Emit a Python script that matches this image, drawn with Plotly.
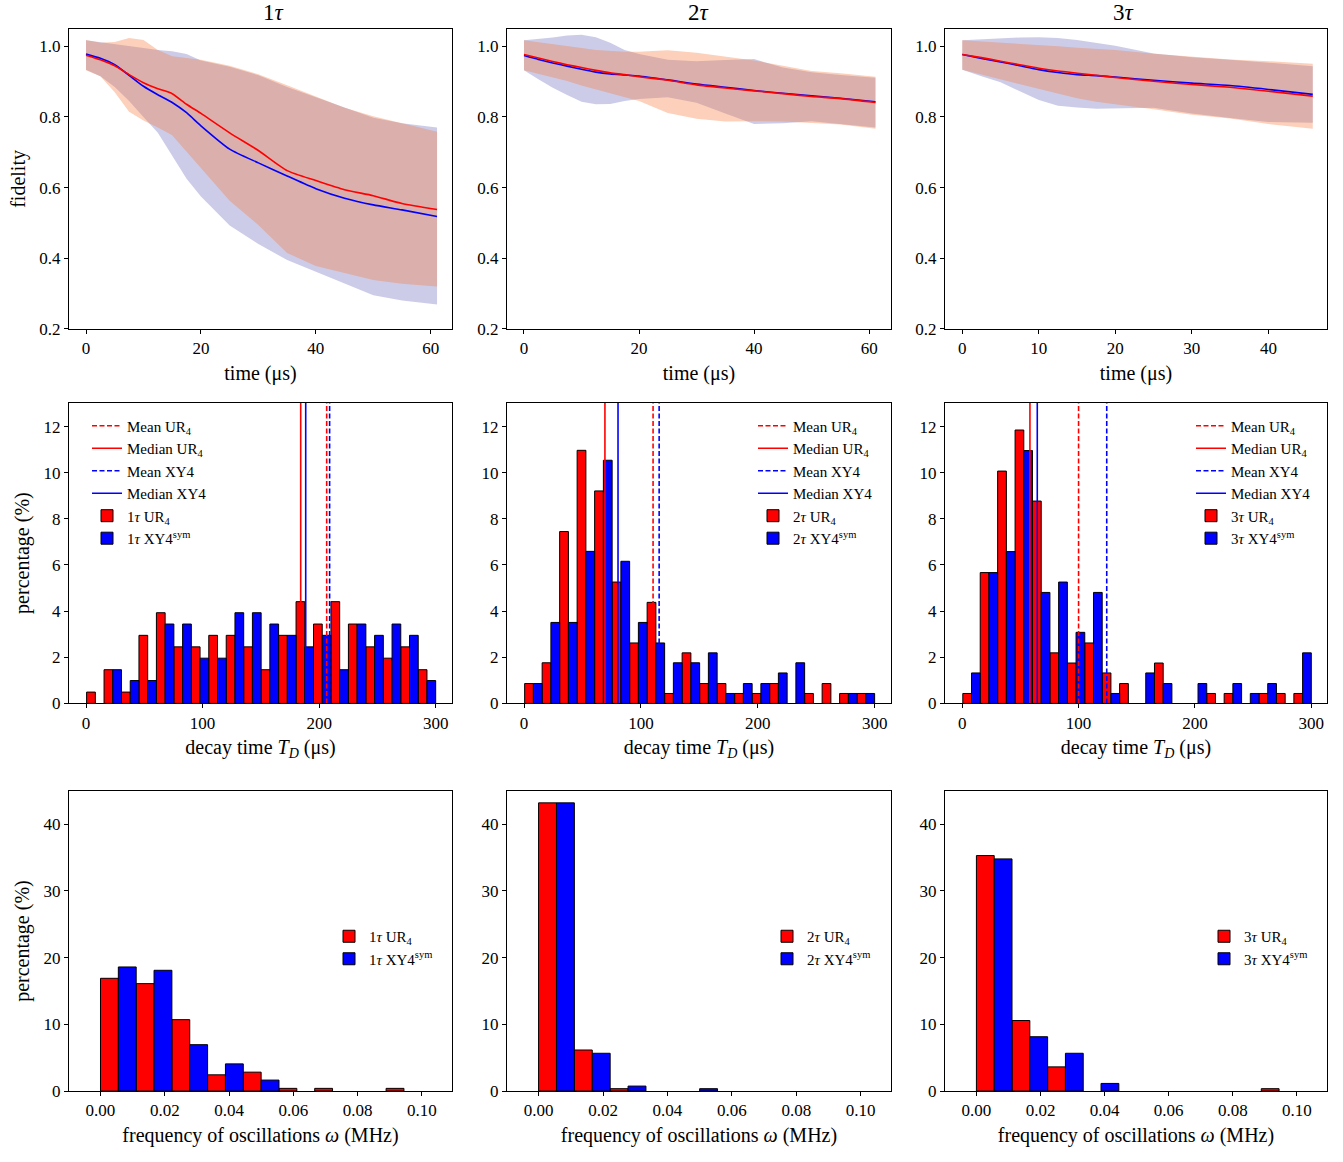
import numpy as np
import plotly.graph_objects as go

FONT = "Liberation Serif, DejaVu Serif, serif"
RED = "#ff0000"
BLUE = "#0000ff"
BAND_UR = "rgba(246,121,58,0.35)"
BAND_XY = "rgba(0,0,139,0.2)"

# ---------------- top row: fidelity vs time ----------------
t_12 = [0, 2.5, 5, 7.5, 10, 12.5, 15, 17.5, 20, 25, 30, 35, 40, 45, 50, 55, 61.1]
t_3 = [0, 2.5, 5, 7.5, 10, 12.5, 15, 17.5, 20, 25, 30, 35, 40, 45.8]

f1_ur = [0.975, 0.962, 0.945, 0.92, 0.897, 0.88, 0.866, 0.836, 0.81, 0.755, 0.705, 0.648, 0.62, 0.594, 0.577, 0.555, 0.538]
f1_ur_hi = [1.018, 1.010, 1.012, 1.024, 1.018, 0.99, 0.972, 0.966, 0.962, 0.945, 0.921, 0.89, 0.858, 0.826, 0.802, 0.783, 0.758]
f1_ur_lo = [0.932, 0.915, 0.87, 0.815, 0.79, 0.77, 0.748, 0.70, 0.655, 0.563, 0.494, 0.415, 0.378, 0.358, 0.338, 0.328, 0.32]
f1_xy = [0.978, 0.966, 0.948, 0.918, 0.887, 0.863, 0.841, 0.812, 0.775, 0.709, 0.67, 0.633, 0.597, 0.57, 0.551, 0.537, 0.518]
f1_xy_hi = [1.017, 1.011, 1.005, 1.0, 0.995, 0.99, 0.986, 0.978, 0.96, 0.942, 0.918, 0.885, 0.856, 0.826, 0.798, 0.782, 0.77]
f1_xy_lo = [0.934, 0.915, 0.885, 0.845, 0.80, 0.755, 0.69, 0.625, 0.575, 0.493, 0.44, 0.395, 0.36, 0.328, 0.295, 0.28, 0.269]

f2_ur = [0.977, 0.967, 0.957, 0.948, 0.94, 0.932, 0.925, 0.92, 0.914, 0.904, 0.891, 0.882, 0.874, 0.866, 0.858, 0.852, 0.841]
f2_ur_hi = [1.017, 1.011, 1.005, 1.0, 0.995, 0.99, 0.987, 0.985, 0.985, 0.989, 0.982, 0.97, 0.96, 0.945, 0.93, 0.924, 0.914]
f2_ur_lo = [0.932, 0.922, 0.912, 0.902, 0.889, 0.876, 0.866, 0.856, 0.845, 0.811, 0.795, 0.787, 0.788, 0.787, 0.783, 0.779, 0.767]
f2_xy = [0.974, 0.963, 0.953, 0.944, 0.935, 0.927, 0.922, 0.919, 0.916, 0.905, 0.893, 0.884, 0.875, 0.867, 0.86, 0.853, 0.843]
f2_xy_hi = [1.017, 1.02, 1.025, 1.031, 1.033, 1.026, 1.01, 0.99, 0.978, 0.962, 0.958, 0.961, 0.964, 0.94, 0.927, 0.919, 0.911]
f2_xy_lo = [0.932, 0.907, 0.883, 0.862, 0.843, 0.836, 0.837, 0.845, 0.851, 0.856, 0.84, 0.81, 0.78, 0.782, 0.788, 0.78, 0.77]

f3_ur = [0.977, 0.968, 0.958, 0.948, 0.938, 0.93, 0.924, 0.918, 0.912, 0.901, 0.892, 0.884, 0.873, 0.859]
f3_ur_hi = [1.017, 1.014, 1.011, 1.008, 1.004, 1.0, 0.996, 0.993, 0.99, 0.979, 0.97, 0.963, 0.958, 0.951]
f3_ur_lo = [0.934, 0.92, 0.907, 0.894, 0.88, 0.866, 0.853, 0.843, 0.836, 0.822, 0.806, 0.796, 0.78, 0.767]
f3_xy = [0.977, 0.966, 0.956, 0.945, 0.934, 0.926, 0.92, 0.917, 0.913, 0.904, 0.896, 0.889, 0.878, 0.864]
f3_xy_hi = [1.017, 1.02, 1.023, 1.025, 1.026, 1.024, 1.018, 1.01, 1.002, 0.98, 0.969, 0.962, 0.953, 0.944]
f3_xy_lo = [0.934, 0.915, 0.898, 0.872, 0.848, 0.832, 0.827, 0.823, 0.823, 0.826, 0.81, 0.797, 0.786, 0.784]

# ---------------- middle row: decay time histograms (%) ----------------
decay_edges = np.linspace(0.5, 300, 21)
d1_ur = [0.49, 1.46, 0.49, 2.95, 3.93, 2.45, 2.45, 2.95, 2.95, 2.45, 1.46, 2.95, 4.41, 3.44, 4.41, 3.44, 2.45, 1.96, 2.45, 1.46]
d1_xy = [0, 1.46, 0.99, 0.99, 3.44, 3.44, 1.96, 1.96, 3.93, 3.93, 3.44, 2.95, 2.45, 2.95, 1.46, 3.44, 2.95, 3.44, 2.95, 0.99]
d2_ur = [0.86, 1.76, 7.45, 10.97, 9.21, 5.26, 2.62, 4.38, 0.43, 2.19, 0.86, 0.86, 0.43, 0.43, 0.86, 0, 0.43, 0.86, 0.43, 0.43]
d2_xy = [0.86, 3.51, 3.51, 6.59, 10.54, 6.16, 3.51, 2.62, 1.76, 1.76, 2.19, 0.43, 0.86, 0.86, 1.32, 1.76, 0, 0, 0.43, 0.43]
d3_ur = [0.43, 5.67, 10.07, 11.85, 8.77, 2.19, 1.75, 2.62, 1.32, 0.86, 0, 1.75, 0, 0, 0.43, 0.43, 0, 0.43, 0.43, 0.43]
d3_xy = [1.32, 5.67, 6.58, 10.96, 4.81, 5.26, 3.08, 4.81, 0.43, 0, 1.32, 0.86, 0, 0.86, 0, 0.86, 0.43, 0.86, 0, 2.19]

# mean / median markers: [mean UR4, median UR4, mean XY4, median XY4]
stats1 = [206.5, 184.2, 209.0, 188.5]
stats2 = [110.4, 69.2, 115.6, 80.4]
stats3 = [100.0, 58.2, 124.2, 64.5]

# ---------------- bottom row: oscillation frequency histograms (%) ----------------
freq_edges = np.linspace(0.0, 0.1, 10)
w1_ur = [16.9, 16.1, 10.7, 2.43, 2.83, 0.4, 0.4, 0, 0.4]
w1_xy = [18.6, 18.1, 6.95, 4.07, 1.64, 0, 0, 0, 0]
w2_ur = [43.2, 6.15, 0.35, 0, 0, 0, 0, 0, 0]
w2_xy = [43.2, 5.66, 0.74, 0, 0.35, 0, 0, 0, 0]
w3_ur = [35.3, 10.57, 3.62, 0, 0, 0, 0, 0, 0.35]
w3_xy = [34.8, 8.14, 5.66, 1.14, 0, 0, 0, 0, 0]

col_titles = ["1<i>τ</i>", "2<i>τ</i>", "3<i>τ</i>"]
taus = ["1", "2", "3"]

# ---------------- layout geometry ----------------
W, H = 1343, 1162
col_px = [(69, 452), (507, 891), (945, 1327)]
row_px = [(29.3, 331.7), (406.3, 709.5), (798, 1100.5)]
xdom = [[a / W, b / W] for a, b in col_px]
ydom = [[1 - b / H, 1 - a / H] for a, b in row_px]

fig = go.Figure()


def ax(r, c):
    i = r * 3 + c + 1
    return ("x" if i == 1 else f"x{i}"), ("y" if i == 1 else f"y{i}")


def add_band(r, c, t, hi, lo, color):
    xa, ya = ax(r, c)
    fig.add_trace(go.Scatter(x=list(t) + list(t)[::-1], y=list(hi) + list(lo)[::-1],
                             fill="toself", fillcolor=color, mode="lines",
                             line=dict(width=0, color=color), showlegend=False,
                             hoverinfo="skip", xaxis=xa, yaxis=ya))


def add_line(r, c, t, v, color):
    xa, ya = ax(r, c)
    fig.add_trace(go.Scatter(x=t, y=v, mode="lines",
                             line=dict(color=color, width=1.6, shape="spline", smoothing=0.6),
                             showlegend=False, xaxis=xa, yaxis=ya))


top = [(t_12, f1_ur, f1_ur_hi, f1_ur_lo, f1_xy, f1_xy_hi, f1_xy_lo),
       (t_12, f2_ur, f2_ur_hi, f2_ur_lo, f2_xy, f2_xy_hi, f2_xy_lo),
       (t_3, f3_ur, f3_ur_hi, f3_ur_lo, f3_xy, f3_xy_hi, f3_xy_lo)]
for c, (t, ur, urh, url, xy, xyh, xyl) in enumerate(top):
    add_band(0, c, t, xyh, xyl, BAND_XY)
    add_band(0, c, t, urh, url, BAND_UR)
    add_line(0, c, t, xy, BLUE)
    add_line(0, c, t, ur, RED)

legend_names = ["legend", "legend2", "legend3", "legend4", "legend5", "legend6"]


def nz(vals):
    return [v if v > 0 else None for v in vals]


def add_hist(r, c, edges, ur, xy, legend):
    xa, ya = ax(r, c)
    edges = np.asarray(edges)
    bw = edges[1] - edges[0]
    centers = (edges[:-1] + edges[1:]) / 2
    tau = taus[c]
    fig.add_trace(go.Bar(x=centers, y=nz(ur), width=bw / 2, offset=-bw / 2,
                         marker=dict(color=RED, line=dict(color="black", width=1)),
                         name=f"{tau}<i>τ</i> UR<sub>4</sub>", legend=legend, legendrank=5,
                         xaxis=xa, yaxis=ya))
    fig.add_trace(go.Bar(x=centers, y=nz(xy), width=bw / 2, offset=0,
                         marker=dict(color=BLUE, line=dict(color="black", width=1)),
                         name=f"{tau}<i>τ</i> XY4<sup>sym</sup>", legend=legend, legendrank=6,
                         xaxis=xa, yaxis=ya))


for c, (ur, xy) in enumerate([(d1_ur, d1_xy), (d2_ur, d2_xy), (d3_ur, d3_xy)]):
    add_hist(1, c, decay_edges, ur, xy, legend_names[c])
for c, (ur, xy) in enumerate([(w1_ur, w1_xy), (w2_ur, w2_xy), (w3_ur, w3_xy)]):
    add_hist(2, c, freq_edges, ur, xy, legend_names[3 + c])

YMAX_MID = 13.03
stat_specs = [("Mean UR<sub>4</sub>", RED, "5px,2.5px"), ("Median UR<sub>4</sub>", RED, "solid"),
              ("Mean XY4", BLUE, "5px,2.5px"), ("Median XY4", BLUE, "solid")]
for c, stats in enumerate([stats1, stats2, stats3]):
    xa, ya = ax(1, c)
    for k, (v, (nm, col, dash)) in enumerate(zip(stats, stat_specs)):
        fig.add_trace(go.Scatter(x=[v, v], y=[0, YMAX_MID], mode="lines",
                                 line=dict(color=col, width=1.6, dash=dash),
                                 name=nm, legend=legend_names[c], legendrank=k + 1,
                                 xaxis=xa, yaxis=ya))

axis_common = dict(showline=True, mirror=True, linecolor="black", linewidth=1,
                   ticks="outside", ticklen=4, tickwidth=1, tickcolor="black",
                   showgrid=False, zeroline=False,
                   tickfont=dict(family=FONT, size=17, color="black"))

x_ranges = [[[-2.96, 63.7], [-2.95, 63.8], [-2.26, 47.66]],
            [[-14.6, 314], [-14.6, 314], [-14.8, 313.5]],
            [[-0.0098, 0.1094], [-0.0098, 0.1094], [-0.0098, 0.1094]]]
y_ranges = [[0.2, 1.049], [0, YMAX_MID], [0, 44.96]]
x_ticks = [[[0, 20, 40, 60], [0, 20, 40, 60], [0, 10, 20, 30, 40]],
           [[0, 100, 200, 300]] * 3,
           [[0, 0.02, 0.04, 0.06, 0.08, 0.1]] * 3]
y_ticks = [[0.2, 0.4, 0.6, 0.8, 1.0], [0, 2, 4, 6, 8, 10, 12], [0, 10, 20, 30, 40]]
x_fmt = ["", "", ".2f"]
y_fmt = [".1f", "", ""]
x_titles = ["time (μs)", "decay time <i>T<sub>D</sub></i> (μs)", "frequency of oscillations <i>ω</i> (MHz)"]
y_titles = ["fidelity", "percentage (%)", "percentage (%)"]

layout = dict(width=W, height=H, margin=dict(l=0, r=0, t=0, b=0),
              paper_bgcolor="white", plot_bgcolor="white", barmode="overlay",
              font=dict(family=FONT, color="black"), showlegend=True)

for r in range(3):
    for c in range(3):
        i = r * 3 + c + 1
        xk = "xaxis" if i == 1 else f"xaxis{i}"
        yk = "yaxis" if i == 1 else f"yaxis{i}"
        xa, ya = ax(r, c)
        layout[xk] = dict(axis_common, domain=xdom[c], anchor=ya, range=x_ranges[r][c],
                          tickvals=x_ticks[r][c], tickformat=x_fmt[r],
                          title=dict(text=x_titles[r], font=dict(family=FONT, size=20, color="black"), standoff=8))
        ydict = dict(axis_common, domain=ydom[r], anchor=xa, range=y_ranges[r],
                     tickvals=y_ticks[r], tickformat=y_fmt[r])
        if c == 0:
            ydict["title"] = dict(text=y_titles[r], font=dict(family=FONT, size=20, color="black"), standoff=8)
        layout[yk] = ydict

leg_common = dict(bgcolor="rgba(255,255,255,0)", borderwidth=0, font=dict(family=FONT, size=15, color="black"),
                  itemwidth=30, tracegroupgap=0, xanchor="left", yanchor="top", traceorder="normal")
leg_pos = [(87, 413), (753, 413), (1191, 413), (329, 928), (767, 928), (1204, 928)]
for name, (lx, ly) in zip(legend_names, leg_pos):
    layout[name] = dict(leg_common, x=lx / W, y=1 - ly / H)

annots = []
for c in range(3):
    annots.append(dict(text=col_titles[c], x=(xdom[c][0] + xdom[c][1]) / 2, y=1 - 13 / H,
                       xref="paper", yref="paper", showarrow=False, yanchor="middle",
                       font=dict(family=FONT, size=23, color="black")))
layout["annotations"] = annots

fig.update_layout(**layout)
fig.write_html("out.html", config={"displayModeBar": False},
               post_script="document.body.style.margin='0';document.body.style.padding='0';")
